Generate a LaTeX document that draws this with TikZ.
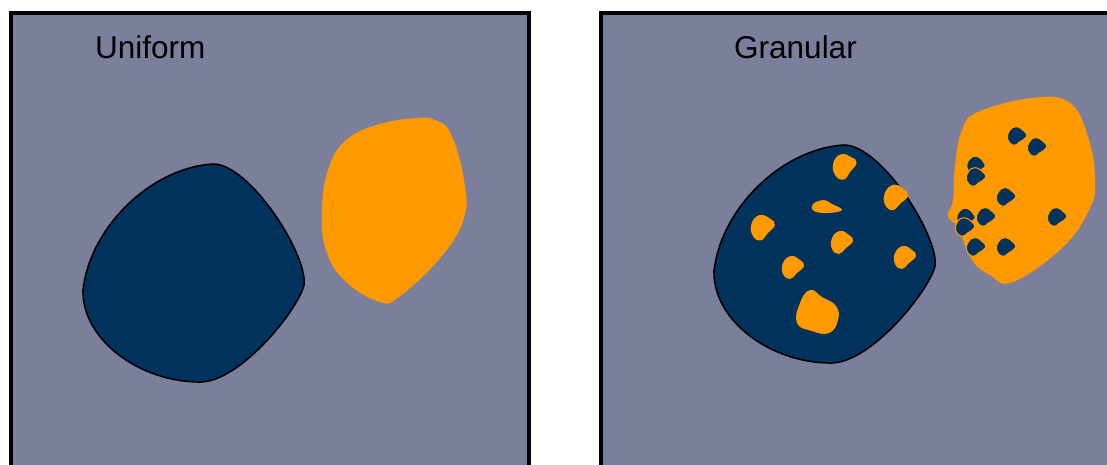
\documentclass[tikz,border=0pt]{standalone}
\usepackage{fontspec}
\setmainfont{Liberation Sans}
\definecolor{panelbg}{RGB}{123,127,155}
\definecolor{navy}{RGB}{2,51,92}
\definecolor{amber}{RGB}{255,153,0}
\tikzset{
  panel/.style={fill=panelbg,draw=black,line width=4pt},
  navyblob/.style={fill=navy,draw=black,line width=1.6pt},
  amberblob/.style={fill=amber},
  ograin/.style={fill=amber},
  ngrain/.style={fill=navy,draw=amber,line width=1pt},
  title/.style={font=\fontsize{31.5}{36}\selectfont,anchor=base west,inner sep=0pt}
}
\newcommand{\navyoutline}{(213,164) .. controls (150,168) and (90,228) .. (83,290)
  .. controls (82,340) and (140,382) .. (200,382)
  .. controls (240,382) and (298,310) .. (304,285)
  .. controls (308,255) and (250,164) .. cycle}
\begin{document}
\begin{tikzpicture}[x=1pt,y=-1pt]
\useasboundingbox (0,0) rectangle (1107,464);
\clip (0,0) rectangle (1107,464);
% panels
\path[panel] (11,13) rectangle (529,480);
\path[panel] (601,13) rectangle (1130,480);
\node[title] (tu) at (95,58) {Uniform};
\node[title] (tg) at (734,58) {Granular};
% left blobs
\path[navyblob] \navyoutline;
\path[amberblob] plot[smooth cycle,tension=0.7] coordinates {(417,118) (380,124) (346,140) (328,170) (322,210) (326,250) (345,281) (380,302) (400,296) (441,257) (464,218) (464,180) (451,134) (435,120)};
% right blobs
\begin{scope}[shift={(631,-19)}]
\path[navyblob] \navyoutline;
\end{scope}
\path[amberblob] plot[smooth cycle,tension=0.7] coordinates {(1032,98) (1070,103) (1089,140) (1095,180) (1090,208) (1063,247) (1013,282) (990,275) (972,260) (958,228) (948,216) (953,200) (955,165) (962,130) (978,112)};
% orange grains in navy
\foreach \x/\y/\s/\r in {845/167/1.1/10, 896/198/1.1/0, 763/228/1.1/5, 842/243/1.0/0, 905/258/1.0/0, 793/268/1.0/0}{
  \begin{scope}[shift={(\x,\y)},rotate=\r,scale=\s]
    \path[ograin] plot[smooth cycle,tension=0.8] coordinates {(-2,-12) (7,-8) (11,-2) (4,5) (-3,11) (-10,6) (-10,-5)};
  \end{scope}}
\path[ograin] plot[smooth cycle,tension=0.7] coordinates {(813,204) (824,200) (832,204) (842,210) (828,213) (814,211)};
\path[ograin] plot[smooth cycle,tension=0.8] coordinates {(810,290) (822,297) (836,306) (838,320) (829,333) (812,331) (797,323) (800,303)};
% navy grains in orange
\foreach \x/\y/\s/\r in {1017/136/0.85/0, 1037/147/0.85/0, 976/165/0.8/-10, 976/177/0.85/0, 1006/197/0.85/0, 966/217/0.8/-10, 986/217/0.85/0, 965/227/0.85/0, 1057/217/0.85/0, 976/247/0.85/0, 1006/247/0.85/0}{
  \begin{scope}[shift={(\x,\y)},rotate=\r,scale=\s]
    \path[ngrain] plot[smooth cycle,tension=0.8] coordinates {(-1,-11) (9,-5) (11,1) (3,7) (-4,11) (-11,4) (-9,-6)};
  \end{scope}}
\end{tikzpicture}
\end{document}
